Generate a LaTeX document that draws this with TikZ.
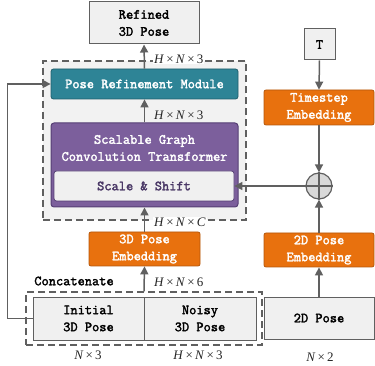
\documentclass[tikz,border=0pt]{standalone}
\usepackage{fontspec}
\newfontfamily\boxfont{Latin Modern Mono}[FakeBold=2.2]
\newfontfamily\dimfont{Liberation Serif}
\newcommand{\dimtxt}[1]{\dimfont #1}
\usetikzlibrary{arrows.meta,positioning}
\definecolor{orangeF}{HTML}{E8710E}
\definecolor{orangeD}{HTML}{B4570C}
\definecolor{tealF}{HTML}{2E8496}
\definecolor{tealD}{HTML}{1F5E6C}
\definecolor{purpF}{HTML}{7C5F9C}
\definecolor{purpD}{HTML}{553E74}
\definecolor{purpT}{HTML}{4A3866}
\definecolor{boxF}{HTML}{F0F0F0}
\definecolor{grpF}{HTML}{F2F2F2}
\definecolor{lineC}{HTML}{606060}
\definecolor{plusF}{HTML}{D9D9D9}
\begin{document}
\begin{tikzpicture}[x=1pt,y=-1pt,
  font=\fontsize{14}{17}\selectfont\boxfont,
  graybox/.style={draw=lineC,fill=boxF,line width=1pt,inner sep=0pt,align=center,text=black},
  orangebox/.style={draw=orangeD,fill=orangeF,line width=0.8pt,rounded corners=2pt,inner sep=0pt,align=center,text=white},
  grp/.style={draw=lineC,fill=grpF,line width=1.2pt,dash pattern=on 7pt off 4pt,inner sep=0pt},
  arr/.style={draw=lineC,line width=1.5pt,-{Triangle[length=8pt,width=8pt]}},
  dim/.style={font=\fontsize{13}{15}\selectfont\dimfont,inner sep=1pt,text=black!85},
]
\useasboundingbox (0,0) rectangle (375,366);
% groups
\node[grp,minimum width=203pt,minimum height=159pt] (grpbox) at (144.5,140.5) {};
\node[grp,minimum width=236pt,minimum height=53pt,fill=none] (cat) at (144,318.5) {};
% top
\node[graybox,minimum width=110pt,minimum height=42pt] (refined) at (144,23) {Refined\\3D Pose};
\node[draw=tealD,fill=tealF,line width=0.8pt,rounded corners=2.5pt,text=white,minimum width=187pt,minimum height=30pt,inner sep=0pt] (prm) at (144.5,84) {Pose Refinement Module};
\node[draw=purpD,fill=purpF,line width=1pt,rounded corners=3pt,minimum width=187pt,minimum height=84pt,inner sep=0pt] (sgct) at (144.5,165) {};
\node[text=white,align=center,inner sep=0pt] (sgcttext) at (144.5,148) {Scalable Graph\\Convolution Transformer};
\node[draw=purpD,fill=boxF,line width=0.8pt,rounded corners=2.5pt,text=purpT,minimum width=180pt,minimum height=30pt,inner sep=0pt] (ss) at (144,186) {Scale \& Shift};
\node[orangebox,minimum width=111pt,minimum height=34pt] (emb3) at (144.5,249) {3D Pose\\Embedding};
% bottom
\node[graybox,minimum width=111pt,minimum height=43pt] (init) at (88.5,318.5) {Initial\\3D Pose};
\node[graybox,minimum width=112pt,minimum height=43pt] (noisy) at (200,318.5) {Noisy\\3D Pose};
\node[graybox,minimum width=110pt,minimum height=42pt] (p2d) at (319,318) {2D Pose};
% right column
\node[graybox,minimum width=31pt,minimum height=31pt] (T) at (319.5,44.5) {T};
\node[orangebox,minimum width=110pt,minimum height=35pt] (temb) at (319,107.5) {Timestep\\Embedding};
\node[orangebox,minimum width=110pt,minimum height=34pt] (emb2) at (319,250) {2D Pose\\Embedding};
\node[circle,draw=lineC,fill=plusF,line width=1.2pt,minimum size=26pt,inner sep=0pt] (plus) at (319,186) {};
\draw[lineC,line width=1.2pt] (plus.north) -- (plus.south) (plus.west) -- (plus.east);
% arrows
\draw[arr] (prm.north) -- (refined.south);
\draw[arr] (sgct.north) -- (prm.south);
\draw[arr] (emb3.north) -- (sgct.south);
\draw[arr] (cat.north) -- (emb3.south);
\draw[arr] (init.west) -- ++(-25,0) |- (prm.west);
\draw[arr] (T.south) -- (temb.north);
\draw[arr] (temb.south) -- (plus.north);
\draw[arr] (p2d.north) -- (emb2.south);
\draw[arr] (emb2.north) -- (plus.south);
\draw[arr] (plus.west) -- (ss.east);
% labels
\node[dim,fill=white,anchor=west] (l1) at (153,59) {\textit{H}\,×\,\textit{N}\,×\,3};
\node[dim,anchor=west] (l2) at (153,115) {\textit{H}\,×\,\textit{N}\,×\,3};
\node[dim,fill=white,anchor=west] (l3) at (153,222) {\textit{H}\,×\,\textit{N}\,×\,\textit{C}};
\node[dim,anchor=west] (l4) at (153,282) {\textit{H}\,×\,\textit{N}\,×\,6};
\node (concat) at (74,281) {Concatenate};
\node[dim] (l5) at (88,355) {\textit{N}\,×\,3};
\node[dim] (l6) at (198,355) {\textit{H}\,×\,\textit{N}\,×\,3};
\node[dim] (l7) at (320,357) {\textit{N}\,×\,2};
\end{tikzpicture}
\end{document}
